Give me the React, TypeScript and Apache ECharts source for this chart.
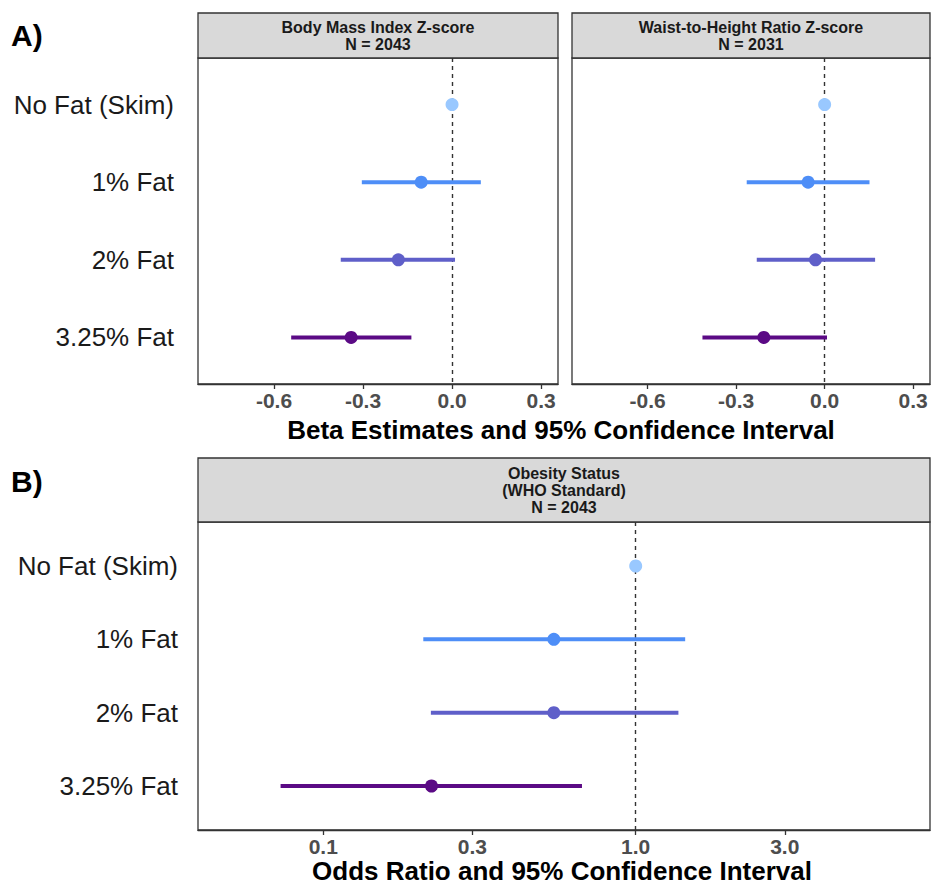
import React, { useEffect, useRef } from "react";
import * as echarts from "echarts";

const categories = ["No Fat (Skim)", "1% Fat", "2% Fat", "3.25% Fat"];
const colors = ["#99C8FF", "#4E8EF7", "#5F5FC9", "#5B0A85"];

const bmiEst = [0, -0.104, -0.181, -0.34];
const bmiLow: (number | null)[] = [null, -0.304, -0.375, -0.542];
const bmiHigh: (number | null)[] = [null, 0.097, 0.01, -0.137];

const whtrEst = [0, -0.056, -0.031, -0.206];
const whtrLow: (number | null)[] = [null, -0.264, -0.23, -0.414];
const whtrHigh: (number | null)[] = [null, 0.152, 0.171, 0.008];

const orEst = [1, 0.547, 0.547, 0.222];
const orLow: (number | null)[] = [null, 0.209, 0.221, 0.073];
const orHigh: (number | null)[] = [null, 1.44, 1.37, 0.673];

const betaTicks = [-0.6, -0.3, 0, 0.3];
const orTicks = [0.1, 0.3, 1, 3];

const FONT = '"Liberation Sans", Arial, sans-serif';

function panelSeries(
  est: number[],
  lo: (number | null)[],
  hi: (number | null)[],
  t: (v: number) => number,
  refValue: number,
  gi: number
) {
  const barData: any[] = [];
  lo.forEach((l, i) => {
    const h = hi[i];
    if (l !== null && h !== null) barData.push([i, t(l), t(h)]);
  });
  return [
    {
      type: "custom",
      xAxisIndex: gi,
      yAxisIndex: gi,
      encode: { x: [1, 2], y: 0 },
      z: 3,
      renderItem: (params: any, api: any) => {
        const y = api.value(0);
        const p1 = api.coord([api.value(1), y]);
        const p2 = api.coord([api.value(2), y]);
        return {
          type: "line",
          shape: { x1: p1[0], y1: p1[1], x2: p2[0], y2: p2[1] },
          style: { stroke: colors[y], lineWidth: 4 },
        };
      },
      data: barData,
    },
    {
      type: "scatter",
      xAxisIndex: gi,
      yAxisIndex: gi,
      symbol: "circle",
      symbolSize: 13,
      z: 4,
      data: est.map((v, i) => ({ value: [t(v), i], itemStyle: { color: colors[i], opacity: 1 } })),
      markLine: {
        silent: true,
        symbol: "none",
        z: 2,
        label: { show: false },
        lineStyle: { color: "#333333", type: [4, 4], width: 1.4 },
        data: [{ xAxis: t(refValue) }],
      },
    },
  ];
}

export default function App() {
  const ref = useRef<HTMLDivElement>(null);
  useEffect(() => {
    if (!ref.current) return;
    const chart = echarts.init(ref.current, undefined, { renderer: "svg" });
    const log = (v: number) => Math.log10(v);
    const ident = (v: number) => v;

    const grids = [
      { left: 198, top: 58, width: 360, height: 326 },
      { left: 572, top: 58, width: 358, height: 326 },
      { left: 198, top: 522, width: 732, height: 308 },
    ];

    const xLabel = {
      fontSize: 21,
      fontWeight: "bold",
      color: "#4D4D4D",
      fontFamily: FONT,
      margin: 6,
    };

    const betaX = (gi: number) => ({
      type: "value",
      gridIndex: gi,
      min: -0.856,
      max: 0.357,
      axisLine: { show: true, onZero: false, lineStyle: { color: "#333333", width: 1.3 } },
      axisTick: { show: true, length: 5, customValues: betaTicks, lineStyle: { color: "#333333", width: 1.3 } },
      axisLabel: { ...xLabel, customValues: betaTicks, formatter: (v: number) => v.toFixed(1) },
      splitLine: { show: false },
    });

    const orTicksLog = orTicks.map(log);

    const yAxis = (gi: number, show: boolean, margin: number) => ({
      type: "value",
      gridIndex: gi,
      min: -0.6,
      max: 3.6,
      inverse: true,
      axisLine: { show: false, onZero: false },
      axisTick: { show: false },
      splitLine: { show: false },
      axisLabel: {
        show,
        customValues: [0, 1, 2, 3],
        formatter: (v: number) => categories[Math.round(v)] ?? "",
        fontSize: 26,
        color: "#1A1A1A",
        fontFamily: FONT,
        margin,
      },
    });

    const headerRect = (x: number, y: number, w: number, h: number) => ({
      type: "rect",
      shape: { x, y, width: w, height: h },
      style: { fill: "#D9D9D9", stroke: "#333333", lineWidth: 1.3 },
      z: 10,
    });
    const headerText = (text: string, x: number, y: number) => ({
      type: "text",
      x,
      y,
      z: 11,
      style: {
        text,
        fill: "#1A1A1A",
        fontSize: 16,
        fontWeight: "bold",
        fontFamily: FONT,
        align: "center",
        verticalAlign: "middle",
      },
    });
    const bigText = (text: string, x: number, y: number, size: number, align: string) => ({
      type: "text",
      x,
      y,
      z: 11,
      style: {
        text,
        fill: "#000000",
        fontSize: size,
        fontWeight: "bold",
        fontFamily: FONT,
        align,
        verticalAlign: "middle",
      },
    });

    chart.setOption({
      animation: false,
      backgroundColor: "#FFFFFF",
      grid: grids.map((g) => ({ ...g, show: true, borderColor: "#333333", borderWidth: 1.3, backgroundColor: "transparent" })),
      xAxis: [
        betaX(0),
        betaX(1),
        {
          type: "value",
          gridIndex: 2,
          min: -1.401,
          max: 0.942,
          axisLine: { show: true, onZero: false, lineStyle: { color: "#333333", width: 1.3 } },
          axisTick: { show: true, length: 5, customValues: orTicksLog, lineStyle: { color: "#333333", width: 1.3 } },
          axisLabel: {
            ...xLabel,
            customValues: orTicksLog,
            formatter: (v: number) => Math.pow(10, v).toFixed(1),
          },
          splitLine: { show: false },
        },
      ],
      yAxis: [yAxis(0, true, 24), yAxis(1, false, 8), yAxis(2, true, 20)],
      series: [
        ...panelSeries(bmiEst, bmiLow, bmiHigh, ident, 0, 0),
        ...panelSeries(whtrEst, whtrLow, whtrHigh, ident, 0, 1),
        ...panelSeries(orEst, orLow, orHigh, log, 1, 2),
      ],
      graphic: [
        headerRect(198, 13, 360, 45),
        headerText("Body Mass Index Z-score", 378, 27),
        headerText("N = 2043", 378, 44),
        headerRect(572, 13, 358, 45),
        headerText("Waist-to-Height Ratio Z-score", 751, 27),
        headerText("N = 2031", 751, 44),
        headerRect(198, 458, 732, 64),
        headerText("Obesity Status", 564, 473),
        headerText("(WHO Standard)", 564, 490),
        headerText("N = 2043", 564, 507),
        bigText("A)", 11, 35, 30, "left"),
        bigText("B)", 11, 481, 30, "left"),
        bigText("Beta Estimates and 95% Confidence Interval", 561, 430, 26, "center"),
        bigText("Odds Ratio and 95% Confidence Interval", 562, 871, 26, "center"),
      ],
    });
    return () => chart.dispose();
  }, []);
  return (
    <div
      ref={ref}
      style={{ position: "fixed", left: 0, top: 0, width: 931, height: 885, background: "#fff" }}
    />
  );
}
